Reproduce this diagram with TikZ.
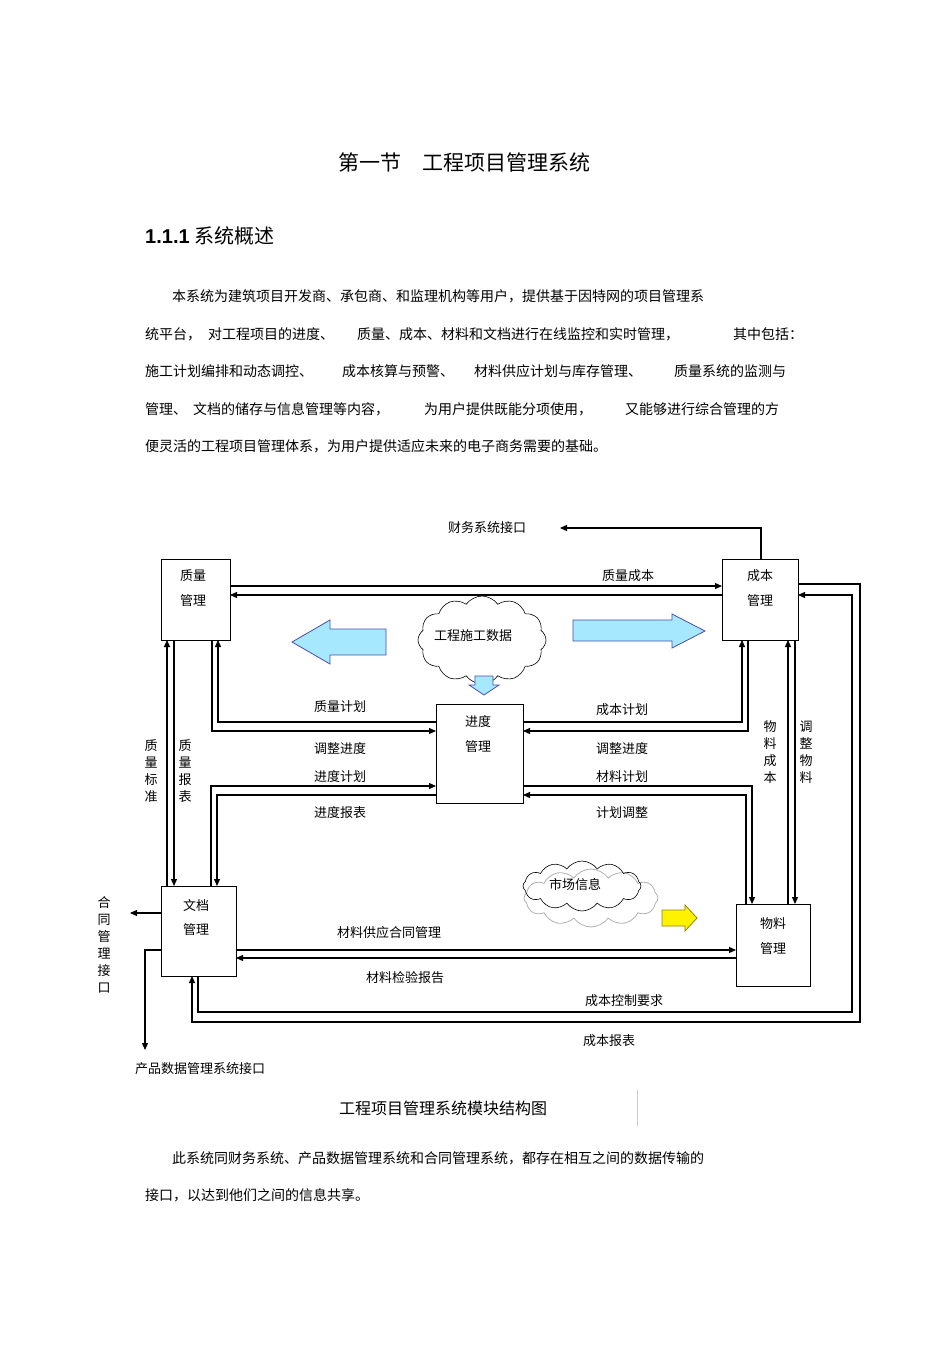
\documentclass[tikz,border=0pt]{standalone}
\usepackage{fontspec}
\setmainfont{Noto Sans CJK SC}
\newfontfamily\hsans{Liberation Sans}
\usetikzlibrary{arrows.meta,shapes.symbols}
\begin{document}
\begin{tikzpicture}[x=1pt,y=-1pt,
  box/.style={draw,line width=0.8pt,fill=white,anchor=north west,inner sep=0pt},
  ln/.style={line width=1.1pt},
  arr/.style={line width=1.1pt,-{Triangle[length=7pt,width=6pt]}},
  lab/.style={font=\fontsize{13}{15}\selectfont,inner sep=0pt},
  par/.style={font=\fontsize{14}{16}\selectfont,anchor=west,inner sep=0pt},
  vlab/.style={font=\fontsize{13}{17}\selectfont,align=center,inner sep=0pt}]
\useasboundingbox (0,0) rectangle (950,1345);
\fill[white] (0,0) rectangle (950,1345);
% heading
\node[font=\fontsize{21}{24}\selectfont] (title) at (464,162) {第一节\hspace{1em}工程项目管理系统};
\node[anchor=west,font=\fontsize{20}{24}\selectfont,inner sep=0pt] (sec) at (145,236) {{\hsans\bfseries 1.1.1} 系统概述};
\node[par] (p1) at (172,296) {本系统为建筑项目开发商、承包商、和监理机构等用户，提供基于因特网的项目管理系};
\node[par] (p2a) at (145,334) {统平台，};
\node[par] (p2b) at (208,334) {对工程项目的进度、};
\node[par] (p2c) at (357,334) {质量、成本、材料和文档进行在线监控和实时管理，};
\node[par] (p2d) at (733,334) {其中包括：};
\node[par] (p3a) at (145,371) {施工计划编排和动态调控、};
\node[par] (p3b) at (342,371) {成本核算与预警、};
\node[par] (p3c) at (474,371) {材料供应计划与库存管理、};
\node[par] (p3d) at (674,371) {质量系统的监测与};
\node[par] (p4a) at (145,409) {管理、};
\node[par] (p4b) at (193,409) {文档的储存与信息管理等内容，};
\node[par] (p4c) at (424,409) {为用户提供既能分项使用，};
\node[par] (p4d) at (625,409) {又能够进行综合管理的方};
\node[par] (p5) at (145,446) {便灵活的工程项目管理体系，为用户提供适应未来的电子商务需要的基础。};
% boxes
\node[box,minimum width=69,minimum height=81] (zl) at (161,559) {};
\node[lab] at (193,576) {质量}; \node[lab] at (193,601) {管理};
\node[box,minimum width=76,minimum height=81] (cb) at (722,559) {};
\node[lab] at (760,576) {成本}; \node[lab] at (760,601) {管理};
\node[box,minimum width=87,minimum height=99] (jd) at (436,704) {};
\node[lab] at (478,722) {进度}; \node[lab] at (478,747) {管理};
\node[box,minimum width=75,minimum height=90] (wd) at (161,886) {};
\node[lab] at (196,905) {文档}; \node[lab] at (196,930) {管理};
\node[box,minimum width=74,minimum height=82] (wl) at (736,904) {};
\node[lab] at (773,924) {物料}; \node[lab] at (773,949) {管理};
% 财务
\node[lab] (cw) at (487,528) {财务系统接口};
\draw[arr] (761,559) -- (761,528) -- (560,528);
% zl <-> cb
\draw[arr] (230,586) -- (722,586);
\draw[arr] (722,595) -- (230,595);
\node[lab] at (628,576) {质量成本};
% outer loops
\draw[arr] (798,584) -- (860,584) -- (860,1022) -- (192,1022) -- (192,976);
\draw[arr] (198,976) -- (198,1012) -- (852,1012) -- (852,595) -- (798,595);
\node[lab] at (624,1001) {成本控制要求};
\node[lab] at (609,1041) {成本报表};
% zl <-> jd
\draw[arr] (436,722) -- (218,722) -- (218,640);
\draw[arr] (212,640) -- (212,731) -- (436,731);
\node[lab] at (340,707) {质量计划};
\node[lab] at (340,749) {调整进度};
% cb <-> jd
\draw[arr] (523,722) -- (742,722) -- (742,640);
\draw[arr] (748,640) -- (748,731) -- (523,731);
\node[lab] at (622,710) {成本计划};
\node[lab] at (622,749) {调整进度};
% jd <-> wd
\draw[arr] (211,886) -- (211,786) -- (436,786);
\draw[arr] (436,795) -- (217,795) -- (217,886);
\node[lab] at (340,777) {进度计划};
\node[lab] at (340,813) {进度报表};
% jd <-> wl
\draw[arr] (523,786) -- (752,786) -- (752,904);
\draw[arr] (746,904) -- (746,795) -- (523,795);
\node[lab] at (622,777) {材料计划};
\node[lab] at (622,813) {计划调整};
% zl <-> wd
\draw[arr] (167,886) -- (167,640);
\draw[arr] (174,640) -- (174,886);
\node[vlab] at (151,771) {质\\量\\标\\准};
\node[vlab] at (185,771) {质\\量\\报\\表};
% cb <-> wl
\draw[arr] (788,904) -- (788,640);
\draw[arr] (795,640) -- (795,904);
\node[vlab] at (770,752) {物\\料\\成\\本};
\node[vlab] at (806,752) {调\\整\\物\\料};
% wd <-> wl
\draw[arr] (236,950) -- (736,950);
\draw[arr] (736,958) -- (236,958);
\node[lab] at (389,933) {材料供应合同管理};
\node[lab] at (405,978) {材料检验报告};
% interfaces
\draw[arr] (161,913) -- (130,913);
\node[vlab] at (104,945) {合\\同\\管\\理\\接\\口};
\draw[arr] (161,950) -- (145,950) -- (145,1050);
\node[lab] (cp) at (200,1069) {产品数据管理系统接口};
% clouds
\node[cloud,draw,cloud puffs=12,cloud puff arc=110,aspect=1.5,fill=white,minimum width=128,minimum height=88,line width=0.6pt] (c1) at (482,640) {};
\node[lab] at (473,636) {工程施工数据};
\node[cloud,draw=gray!60,cloud puffs=12,cloud puff arc=110,aspect=2.2,fill=white,minimum width=134,minimum height=58,line width=0.8pt] at (591,898) {};
\node[cloud,draw,cloud puffs=12,cloud puff arc=110,aspect=2.3,minimum width=118,minimum height=50,line width=0.6pt] (c2) at (582,886) {};
\node[lab] at (575,885) {市场信息};
% block arrows
\tikzset{blk/.style={fill=blue!25!cyan!35!white,draw=blue!40!gray,line width=0.8pt}}
\filldraw[blk] (386,629) -- (330,629) -- (330,620) -- (292,642) -- (330,664) -- (330,655) -- (386,655) -- cycle;
\filldraw[blk] (573,620) -- (672,620) -- (672,614) -- (705,631) -- (672,648) -- (672,641) -- (573,641) -- cycle;
\filldraw[blk] (475,676) -- (493,676) -- (493,685) -- (499,685) -- (484,695) -- (469,685) -- (475,685) -- cycle;
\filldraw[fill=yellow,draw=olive,line width=0.8pt] (662,910) -- (685,910) -- (685,905) -- (697,918) -- (685,931) -- (685,926) -- (662,926) -- cycle;
% caption
\node[font=\fontsize{16}{18}\selectfont] (cap) at (443,1108) {工程项目管理系统模块结构图};
\draw[gray!40,line width=0.5pt] (637,1090) -- (637,1126);
\node[par] (q1) at (172,1158) {此系统同财务系统、产品数据管理系统和合同管理系统，都存在相互之间的数据传输的};
\node[par] (q2) at (145,1195) {接口，以达到他们之间的信息共享。};
\end{tikzpicture}
\end{document}
